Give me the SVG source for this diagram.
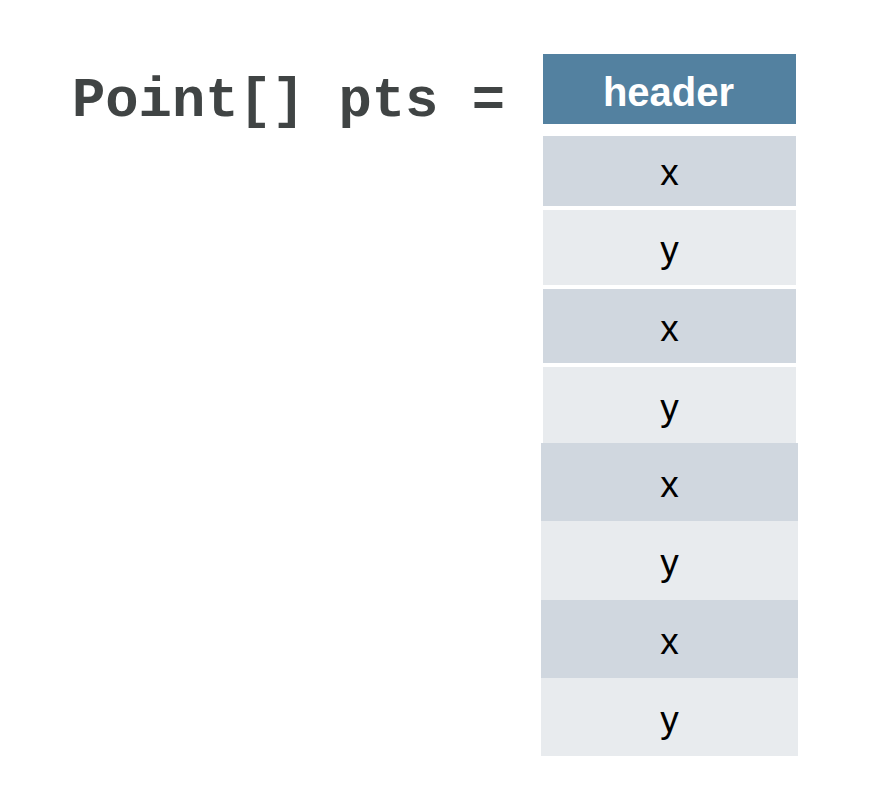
<svg xmlns="http://www.w3.org/2000/svg" width="878" height="800" viewBox="0 0 878 800">
<style>
.code{font-family:"Liberation Mono","Courier New",monospace;font-weight:bold;font-size:55.5px;fill:#404444}
.hdr{fill:#5381A0}
.cx{fill:#D0D7DF}
.cy{fill:#E8EBEE}
.ht{font-family:"Liberation Sans",Arial,sans-serif;font-weight:bold;font-size:40px;fill:#ffffff;text-anchor:middle}
.ft{font-family:"Liberation Sans",Arial,sans-serif;font-size:37px;fill:#000000;text-anchor:middle}
</style>
<rect width="878" height="800" fill="#ffffff"/>
<text class="code" x="72" y="116">Point[] pts =</text>
<g id="header"><rect class="hdr" x="543" y="54" width="253" height="70"/><text class="ht" x="668.5" y="106">header</text></g>
<g id="x1"><rect class="cx" x="543" y="136" width="253" height="70"/><text class="ft" x="669.5" y="185">x</text></g>
<g id="y1"><rect class="cy" x="543" y="210" width="253" height="75"/><text class="ft" x="669.5" y="262">y</text></g>
<g id="x2"><rect class="cx" x="543" y="289" width="253" height="74"/><text class="ft" x="669.5" y="341">x</text></g>
<g id="y2"><rect class="cy" x="543" y="367" width="253" height="76"/><text class="ft" x="669.5" y="420">y</text></g>
<g id="x3"><rect class="cx" x="541" y="443" width="257" height="78"/><text class="ft" x="669.5" y="497">x</text></g>
<g id="y3"><rect class="cy" x="541" y="521" width="257" height="79"/><text class="ft" x="669.5" y="575">y</text></g>
<g id="x4"><rect class="cx" x="541" y="600" width="257" height="78"/><text class="ft" x="669.5" y="654">x</text></g>
<g id="y4"><rect class="cy" x="541" y="678" width="257" height="78"/><text class="ft" x="669.5" y="732">y</text></g>
<g id="connectors"></g>
</svg>
